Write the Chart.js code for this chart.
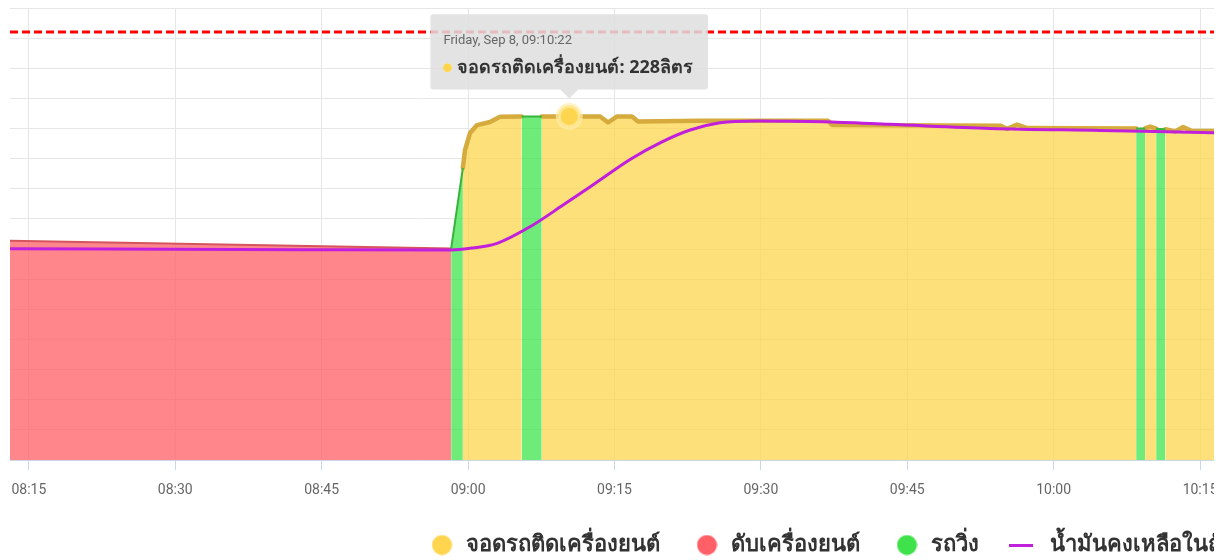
<!DOCTYPE html>
<html><head><meta charset="utf-8">
<script src="https://cdn.jsdelivr.net/npm/chart.js@4.4.1/dist/chart.umd.min.js"></script>
<style>
html,body{margin:0;padding:0;background:#fff;overflow:hidden;width:1226px;height:560px}
#clip{position:absolute;left:0;top:0;width:1214px;height:566px;overflow:hidden;background:#fff}
#wrap{position:absolute;left:0;top:0;width:1700px;height:566px}
</style></head><body>
<div id="clip"><div id="wrap"><canvas id="c"></canvas></div></div>
<script>
// ---------- data ----------
const dateLabel = 'Friday, Sep 8';
const unitLabel = 'ลิตร';
const viewStart = '08:13:04';
const tickStepMinutes = 15;
const yMaxLevel = 300;
const yStepLevel = 20;
const tankLimitLevel = 284;
const tooltipTime = '09:10:22';

const seriesLabels = ['จอดรถติดเครื่องยนต์', 'ดับเครื่องยนต์', 'รถวิ่ง', 'น้ำมันคงเหลือในถัง'];

// engine running while parked (yellow); null = gap
const idleTimes = ['08:59:28','08:59:41','09:00:12','09:00:55','09:02:15','09:03:17','09:05:30','09:06:30','09:07:33','09:10:22','09:13:32','09:14:21','09:15:16','09:16:48','09:17:25','09:23:46','09:36:53','09:37:18','09:54:31','09:55:14','09:56:15','09:57:17','10:08:27','10:08:55','10:09:22','10:09:53','10:10:30','10:11:00','10:11:26','10:12:27','10:13:16','10:14:11','10:16:20','10:22:00'];
const idleLevels = [193.8, 205.7, 217, 222.3, 224.3, 227.8, 228, null, 228, 228, 228, 224, 228, 228, 224.7, 225.2, 225.2, 222.3, 221.9, 219.8, 222.6, 220.3, 220.1, null, 220.1, 221.3, 219.9, null, 219.5, 218.0, 221.0, 218.4, 218.3, 218.2];

// engine off (red)
const offTimes = ['08:13:04', '08:58:16'];
const offLevels = [145.5, 140.3];

// moving (green); null = gap
const moveTimes = ['08:58:16','08:59:28','09:02:00','09:05:30','09:07:33','09:40:00','10:08:27','10:09:22','10:10:00','10:10:30','10:11:26'];
const moveLevels = [140.3, 193.8, null, 228, 228, null, 220.1, 220.1, null, 219.8, 219.6];

// fuel remaining (purple)
const fuelTimes = ['08:13:04','08:42:47','08:58:16','09:00:12','09:02:58','09:06:21','09:09:44','09:13:13','09:16:36','09:19:40','09:22:45','09:25:49','09:29:36','09:36:22','09:43:14','09:53:29','10:04:45','10:16:20','10:22:00'];
const fuelLevels = [140.2, 139.6, 139.4, 140.5, 143.8, 154.8, 169.2, 184.5, 199.5, 210.5, 219.0, 223.8, 225.0, 224.5, 222.8, 220.1, 218.7, 217.2, 216.5];

// ---------- helpers ----------
const toMin = t => { const p = t.split(':').map(Number); return p[0]*60 + p[1] + (p[2]||0)/60; };
const pad2 = n => String(n).padStart(2,'0');
const fmtHM = v => { const m = Math.round(v); return pad2(Math.floor(m/60)) + ':' + pad2(m%60); };
const fmtHMS = v => { const s = Math.round(v*60); return pad2(Math.floor(s/3600)) + ':' + pad2(Math.floor(s/60)%60) + ':' + pad2(s%60); };
const pts = (times, levels) => times.map((t,i) => ({x: toMin(t), y: levels[i]}));

const THAI = "'Noto Sans', 'DejaVu Sans', 'Noto Sans CJK SC', sans-serif";
const PX_PER_MIN = 9.76;
const XMIN = toMin(viewStart);
const LEGEND_FIRST_X = 429;
const LEGEND_PAD = 34;

function marker(kind, color){
  const c = document.createElement('canvas');
  const g = c.getContext('2d');
  if (kind === 'line'){ c.width = 34; c.height = 3; g.fillStyle = color; g.fillRect(0,0,24,3); }
  else { c.width = 21; c.height = 21; g.fillStyle = color; g.beginPath(); g.arc(10.5,10.5,10,0,Math.PI*2); g.fill(); }
  return c;
}
const legendMarkers = [marker('dot','#ffd54f'), marker('dot','#ff5f66'), marker('dot','#40e24c'), marker('line','#c11fdb')];

const limitLine = {
  id: 'limitLine',
  beforeDatasetsDraw(chart){
    const {ctx, chartArea: a, scales: {y}} = chart;
    const py = y.getPixelForValue(tankLimitLevel);
    ctx.save();
    ctx.strokeStyle = '#ff0000'; ctx.lineWidth = 3; ctx.setLineDash([8,4]);
    ctx.beginPath(); ctx.moveTo(a.left, py); ctx.lineTo(a.right, py); ctx.stroke();
    ctx.restore();
  }
};

const wrap = document.getElementById('wrap');
const chart = new Chart(document.getElementById('c'), {
  type: 'line',
  data: { datasets: [
    { label: seriesLabels[0], data: pts(idleTimes, idleLevels), order: 2,
      borderColor: '#d4ab3c', borderWidth: 4.5, backgroundColor: 'rgba(253,213,79,0.75)', fill: 'origin',
      borderJoinStyle: 'round', borderCapStyle: 'round', tension: 0, spanGaps: false,
      pointRadius: 0, pointHoverRadius: 11, pointHoverBackgroundColor: '#fdd54f',
      pointHoverBorderColor: 'rgba(255,236,170,0.7)', pointHoverBorderWidth: 5 },
    { label: seriesLabels[1], data: pts(offTimes, offLevels), order: 3,
      borderColor: 'rgb(214,84,94)', borderWidth: 2, backgroundColor: 'rgba(255,95,102,0.75)', fill: 'origin',
      tension: 0, pointRadius: 0, pointHoverRadius: 0 },
    { label: seriesLabels[2], data: pts(moveTimes, moveLevels), order: 1,
      borderColor: 'rgb(55,180,60)', borderWidth: 2, backgroundColor: 'rgba(62,228,75,0.75)', fill: 'origin',
      tension: 0, spanGaps: false, pointRadius: 0, pointHoverRadius: 0 },
    { label: seriesLabels[3], data: pts(fuelTimes, fuelLevels), order: 0,
      borderColor: '#c11fdb', borderWidth: 3, fill: false, cubicInterpolationMode: 'monotone',
      pointRadius: 0, pointHoverRadius: 0 }
  ]},
  options: {
    animation: false, responsive: true, maintainAspectRatio: false, events: [],
    layout: { padding: { left: 10, right: 10, top: 8, bottom: 0 } },
    scales: {
      x: { type: 'linear', min: XMIN, max: XMIN + 1680 / PX_PER_MIN,
        grid: { color: '#e6e6e6', tickColor: '#ccd6eb', tickLength: 10, drawTicks: true },
        border: { color: '#ccd6eb', width: 1 },
        ticks: { stepSize: tickStepMinutes, includeBounds: false, autoSkip: false, maxRotation: 0, maxTicksLimit: 100,
          padding: 12, color: '#666', font: { family: 'Roboto', size: 14 }, callback: v => fmtHM(v) },
        afterFit: s => { s.height = 40; s.paddingLeft = 0; s.paddingRight = 0; } },
      y: { min: 0, max: yMaxLevel, ticks: { display: false, stepSize: yStepLevel },
        grid: { color: '#e6e6e6', drawTicks: false }, border: { display: false } }
    },
    plugins: {
      legend: { position: 'bottom',
        labels: { usePointStyle: true, pointStyleWidth: 26, padding: LEGEND_PAD, color: '#333',
          font: { family: THAI, size: 22, weight: 'bold' },
          generateLabels: c => Chart.defaults.plugins.legend.labels.generateLabels(c).map(it => Object.assign(it, { pointStyle: legendMarkers[it.datasetIndex] })),
          sort: (a, b) => a.datasetIndex - b.datasetIndex } },
      tooltip: {
        backgroundColor: 'rgba(222,222,222,0.85)', titleColor: '#666', bodyColor: '#333',
        titleFont: { family: 'Roboto', size: 13, weight: 'normal' },
        bodyFont: { family: THAI, size: 18, weight: 'bold' },
        padding: { top: 19, bottom: 11, left: 13, right: 15 }, titleMarginBottom: 8,
        cornerRadius: 3, caretSize: 9, caretPadding: 18, yAlign: 'bottom', xAlign: 'center',
        displayColors: true, usePointStyle: true, boxWidth: 8, boxHeight: 8, boxPadding: 4,
        callbacks: {
          title: items => dateLabel + ', ' + fmtHMS(items[0].parsed.x),
          label: item => item.dataset.label + ': ' + item.parsed.y + unitLabel,
          labelColor: () => ({ borderColor: '#fdd54f', backgroundColor: '#fdd54f' }),
          labelPointStyle: () => ({ pointStyle: 'circle', rotation: 0 })
        }
      }
    }
  },
  plugins: [limitLine]
});

// widen the (cropped) canvas so that the centred legend lands where it does in the source
const lw = chart.legend.lineWidths[0];
const W = Math.round(2 * LEGEND_FIRST_X - LEGEND_PAD + lw);
wrap.style.width = W + 'px';
chart.options.scales.x.max = XMIN + (W - 20) / PX_PER_MIN;
chart.resize();
chart.update();

const idx = idleTimes.indexOf(tooltipTime);
const act = [{ datasetIndex: 0, index: idx }];
chart.setActiveElements(act);
chart.tooltip.setActiveElements(act, { x: 0, y: 0 });
chart.update();
</script>
</body></html>
